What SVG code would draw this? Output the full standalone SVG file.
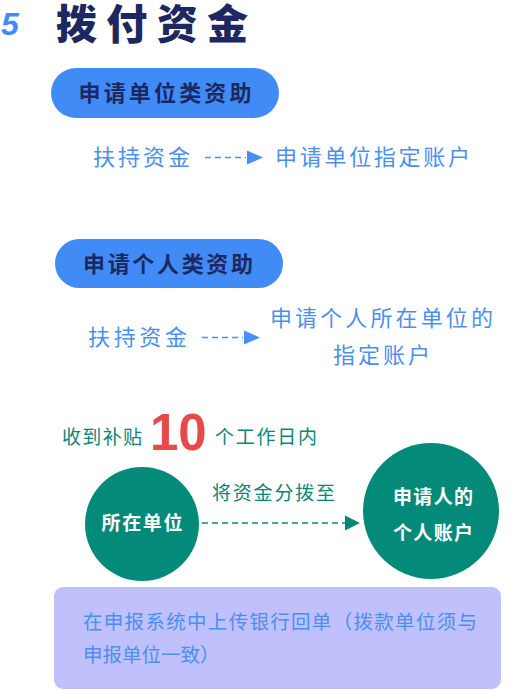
<svg xmlns="http://www.w3.org/2000/svg" width="512" height="690" viewBox="0 0 512 690">
<style>
.cjk{font-family:"Noto Sans CJK SC","Noto Sans",sans-serif}
.title{font-size:41px;font-weight:900;fill:#1d2860}
.pill{fill:#418bf7}
.pilltxt{font-size:22px;font-weight:700;fill:#1d2860}
.blue{font-size:22px;fill:#4a8ff2}
.teal{font-size:19px;fill:#0a8677}
.circ{fill:#048a78}
.ctxt{font-size:19px;font-weight:700;fill:#ffffff}
.dashb{stroke:#4a8ff2;stroke-width:1.5;stroke-dasharray:6 4;fill:none}
.dasht{stroke:#0a8677;stroke-width:1.5;stroke-dasharray:6 4;fill:none}
</style>
<rect width="512" height="690" fill="#ffffff"/>
<g id="title">
<text x="1" y="35" font-family="Liberation Sans,sans-serif" font-size="32" font-weight="700" font-style="italic" fill="#418bf7">5</text>
<text x="56" y="38.5" class="cjk title" textLength="192">拨付资金</text>
</g>
<g id="pill1">
<rect x="51" y="68" width="228" height="50" rx="25" class="pill"/>
<text x="165" y="101" text-anchor="middle" class="cjk pilltxt" textLength="173">申请单位类资助</text>
</g>
<g id="src1"><text x="93" y="165" class="cjk blue" textLength="97">扶持资金</text></g>
<g id="dst1"><text x="275" y="165" class="cjk blue" textLength="195">申请单位指定账户</text></g>
<g id="pill2">
<rect x="55" y="239" width="228" height="49" rx="24.5" class="pill"/>
<text x="168" y="272" text-anchor="middle" class="cjk pilltxt" textLength="170">申请个人类资助</text>
</g>
<g id="src2"><text x="88" y="345" class="cjk blue" textLength="99">扶持资金</text></g>
<g id="dst2">
<text x="270" y="326" class="cjk blue" textLength="223">申请个人所在单位的</text>
<text x="333" y="363" class="cjk blue" textLength="97">指定账户</text>
</g>
<g id="deadline">
<text x="62" y="444" class="cjk teal" textLength="80">收到补贴</text>
<text x="150" y="450" font-family="Liberation Sans,Arial,sans-serif" font-size="51" font-weight="700" fill="#e84a4a">10</text>
<text x="215" y="444" class="cjk teal" textLength="102">个工作日内</text>
</g>
<g id="unit">
<circle cx="142" cy="524" r="57" class="circ"/>
<text x="142" y="530" text-anchor="middle" class="cjk ctxt" textLength="81">所在单位</text>
</g>
<g id="personal">
<circle cx="431" cy="511" r="68" class="circ"/>
<text x="433" y="504" text-anchor="middle" class="cjk ctxt" textLength="80">申请人的</text>
<text x="433" y="540" text-anchor="middle" class="cjk ctxt" textLength="80">个人账户</text>
</g>
<g id="note">
<rect x="54" y="587" width="447" height="102" rx="9" fill="#bfc0fc"/>
<text x="83" y="629" class="cjk" font-size="19.5" fill="#4a8ff2" textLength="394">在申报系统中上传银行回单（拨款单位须与</text>
<text x="83" y="662" class="cjk" font-size="19.5" fill="#4a8ff2">申报单位一致）</text>
</g>
<g id="connectors">
<line x1="205" y1="157.5" x2="246" y2="157.5" class="dashb"/>
<polygon points="247,150.5 263,157.5 247,164.5" fill="#4a8ff2"/>
<line x1="202" y1="337.5" x2="243" y2="337.5" class="dashb"/>
<polygon points="244,330.5 260,337.5 244,344.5" fill="#4a8ff2"/>
<text x="212" y="500" class="cjk teal" textLength="123">将资金分拨至</text>
<line x1="202" y1="523" x2="345" y2="523" class="dasht"/>
<polygon points="345,515.5 360,523 345,530.5" fill="#0a8677"/>
</g>
</svg>
